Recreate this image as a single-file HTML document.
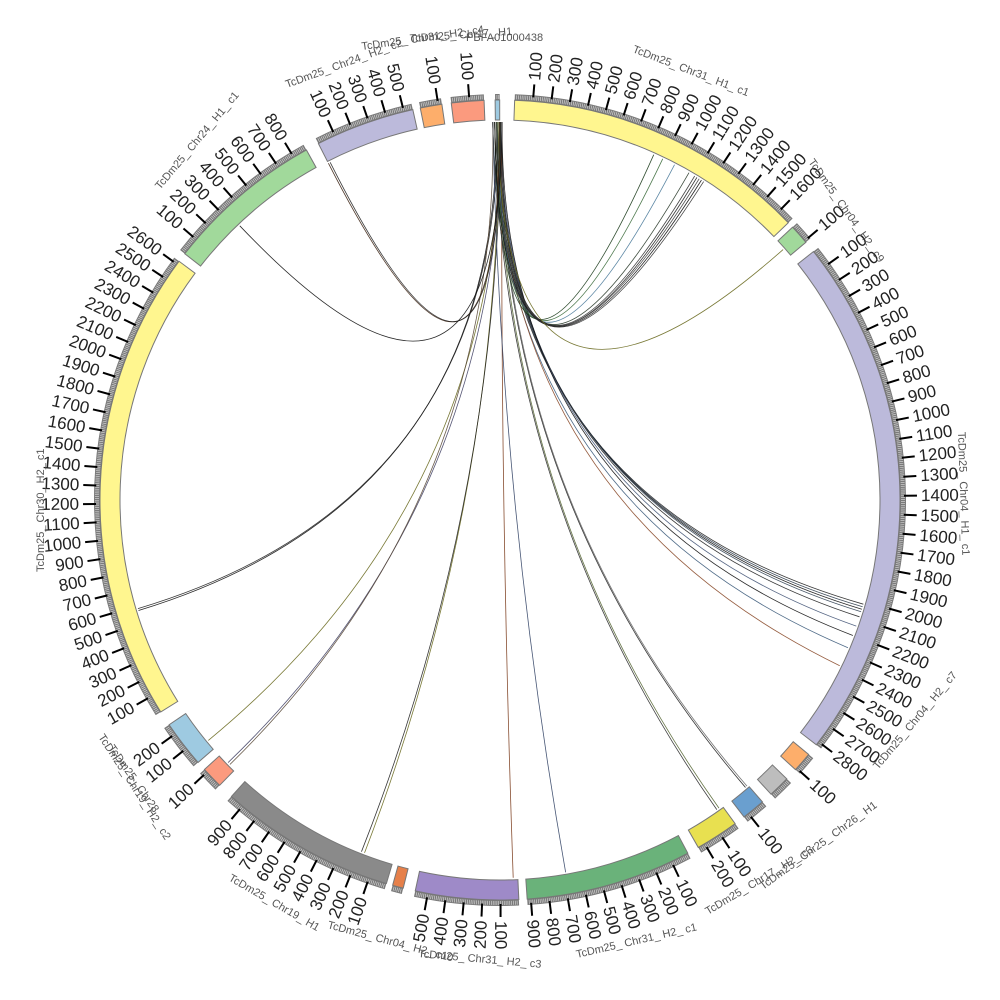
<!DOCTYPE html>
<html><head><meta charset="utf-8">
<style>
html,body{margin:0;padding:0;background:#fff;width:1000px;height:1000px;overflow:hidden}
svg{display:block}
.cl{font-family:"Liberation Sans","DejaVu Sans",sans-serif;font-size:11px;fill:#555}
</style></head>
<body>
<svg id="s" width="1000" height="1000" viewBox="0 0 1000 1000" xmlns="http://www.w3.org/2000/svg">
<g id="links" fill="none"></g>
<g id="segs"></g>
<g id="ticks"></g>
<g id="labels">
<text class="cl" transform="translate(632,52) rotate(21)">TcDm25_ Chr31_ H1_ c1</text>
<text class="cl" transform="translate(808,162) rotate(55)">TcDm25_ Chr04_ H2_ c9</text>
<text class="cl" transform="translate(958,432) rotate(88)">TcDm25_ Chr04_ H1_ c1</text>
<text class="cl" transform="translate(878,770) rotate(-50)">TcDm25_ Chr04_ H2_ c7</text>
<text class="cl" transform="translate(763,890) rotate(-36)">TcDm25_ Chr25_ Chr26_ H1</text>
<text class="cl" transform="translate(708,915) rotate(-31)">TcDm25_ Chr17_ H2_ c3</text>
<text class="cl" transform="translate(577,958) rotate(-13)">TcDm25_ Chr31_ H2_ c1</text>
<text class="cl" transform="translate(418,957) rotate(5)">TcDm25_ Chr31_ H2_ c3</text>
<text class="cl" transform="translate(327,928) rotate(15)">TcDm25_ Chr04_ H2_ c10</text>
<text class="cl" transform="translate(228,880) rotate(30)">TcDm25_ Chr19_ H1</text>
<text class="cl" transform="translate(98,737) rotate(57)">TcDm25_ Chr19_ H2_ c2</text>
<text class="cl" transform="translate(108,748) rotate(55)">TcDm25_ Chr28</text>
<text class="cl" transform="translate(44,572) rotate(-90)">TcDm25_ Chr30_ H2_ c1</text>
<text class="cl" transform="translate(160,190) rotate(-50)">TcDm25_ Chr24_ H1_ c1</text>
<text class="cl" transform="translate(287,88) rotate(-20)">TcDm25_ Chr24_ H2_ c2</text>
<text class="cl" transform="translate(362,50) rotate(-8)">TcDm25_ Chr31_ H2_ c4</text>
<text class="cl" transform="translate(410,42) rotate(-4)">TcDm25_ Chr17_ H1</text>
<text class="cl" transform="translate(466,41)">PBFA01000438</text>
</g>
</svg>
<script>
(function(){
var NS="http://www.w3.org/2000/svg",cx=500,cy=500,K=0.0262;
function P(r,a){a=a*Math.PI/180;return [cx+r*Math.sin(a),cy-r*Math.cos(a)];}
function el(t,at,par,txt){var e=document.createElementNS(NS,t);for(var k in at)e.setAttribute(k,at[k]);if(txt!==undefined)e.textContent=txt;document.getElementById(par).appendChild(e);return e;}
function ring(r1,r2,a1,a2){var p1=P(r2,a1),p2=P(r2,a2),p3=P(r1,a2),p4=P(r1,a1),lg=(a2-a1)>180?1:0;
return "M"+p1+" A"+r2+","+r2+" 0 "+lg+" 1 "+p2+" L"+p3+" A"+r1+","+r1+" 0 "+lg+" 0 "+p4+"Z";}
var segs=[
[2.1,1680,"#fff68f",1],[47.0,110,"#a1d99b",1],[51.6,2820,"#bcbadb",1,0.027],[129.5,110,"#fdae6b",1],
[134.2,120,"#bdbdbd",0],[139,130,"#6a9fcf",1],[144,240,"#e8e050",1],[152,920,"#6ab27a",1],
[177.3,570,"#9e8ac8",1],[194,60,"#e6804a",0],[196.5,980,"#8a8a8a",1],[224.5,120,"#fb9a7e",1],
[229,260,"#9ecae1",1],[238,2620,"#fff68f",1],[308,880,"#a1d99b",1],[333,550,"#bcbadb",1],
[348.5,120,"#fdae6b",1],[353,180,"#fb9a7e",1],[359.3,25,"#9ecae1",0]];
segs.forEach(function(s){
 var k=s[4]||K;var a1=s[0],a2=s[0]+s[1]*k;
 el("path",{d:ring(400,406,a1,a2),fill:"#7a7a7a"},"segs");
 for(var u=10;u<s[1];u+=10){var aa=a1+u*k;var q1=P(401,aa),q2=P(405,aa);
  el("line",{x1:q1[0],y1:q1[1],x2:q2[0],y2:q2[1],stroke:"#ddd","stroke-width":0.6},"segs");}
 el("path",{d:ring(380,400,a1,a2),fill:s[2],stroke:"#777","stroke-width":1},"segs");
 if(s[3]){for(var u=100;u<=s[1];u+=100){var a=a1+u*k;var t1=P(404,a),t2=P(417,a),t3=P(421,a);
  el("line",{x1:t1[0],y1:t1[1],x2:t2[0],y2:t2[1],stroke:"#000","stroke-width":2},"ticks");
  var rot,anc;if(a%360<=180){rot=a-90;anc="start";}else{rot=a+90;anc="end";}
  el("text",{x:0,y:0,"font-family":"Liberation Sans, DejaVu Sans, sans-serif","font-size":"17","fill":"#222","text-anchor":anc,"dominant-baseline":"central",transform:"translate("+t3[0]+","+t3[1]+") rotate("+rot+")"},"ticks",String(u));}}
});
function link(a,b,c,w){var p=P(378,a),q=P(378,b);
 el("path",{d:"M"+p+" Q500,500 "+q,stroke:c||"#111","stroke-width":w||0.8,"stroke-opacity":0.9},"links");}
var top=[358.9,359.2,359.5,359.7,359.9,0.1,0.3];
var tg=[[106,"#222"],[106.4,"#2a3a4a"],[106.8,"#111"],[107.2,"#345"],[108,"#222"],[109.5,"#445577"],[111,"#111"],[113,"#3b5a7a"],[116,"#8a4a2a"],
[253,"#111"],[253.3,"#222"],[201,"#6a6a20"],[201.5,"#222"],[178,"#7a3a1a"],[170,"#334466"],[145,"#2a2a2a"],[144.6,"#556633"],[139.5,"#222"],[139.2,"#666"],[230.5,"#6a6a20"],[226,"#444466"],[225.6,"#5a4a3a"],
[24,"#1a3a1a"],[25.5,"#3a6a3a"],[27.5,"#4a7a9a"],[30,"#2a3a2a"],[31,"#333"],[31.4,"#222"],[31.8,"#444"],[32.2,"#111"],[32.6,"#333"],[48.5,"#6a6a20"],[333,"#3a2010"],[333.3,"#222"],[316.5,"#111"]];
tg.forEach(function(t,i){link(top[i%top.length],t[0],t[1]);});
})();
</script>
</body></html>
